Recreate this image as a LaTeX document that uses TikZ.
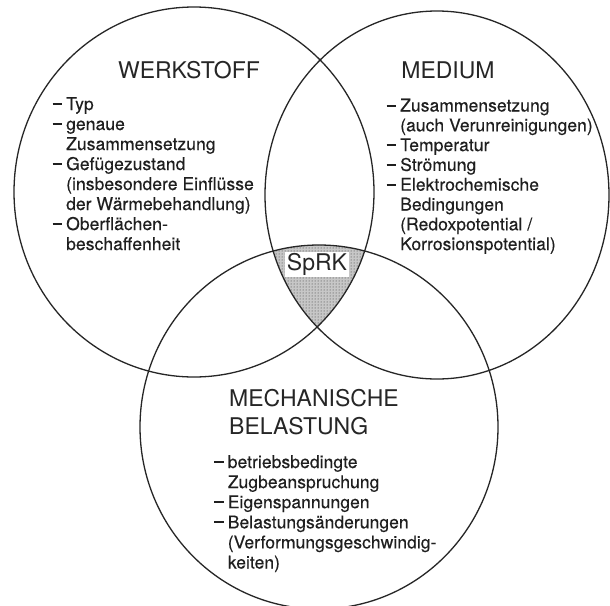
\documentclass[tikz,border=0pt]{standalone}
\usepackage{fontspec}
\setmainfont{TeX Gyre Heros}
\newfontfamily\bodyfont[LetterSpace=0.3,FakeBold=0.3]{TeX Gyre Heros}
\usetikzlibrary{patterns}
\newcommand\listdash{\rule[5pt]{9.5pt}{2pt}}
\begin{document}
\begin{tikzpicture}[x=1pt,y=-1pt,
  ring/.style={line width=1.3pt, draw=black!85},
  heading/.style={font=\fontsize{23}{28}\selectfont, inner sep=0pt, text=black!85},
  entry/.style={font=\bodyfont\fontsize{17.5}{20}\selectfont, inner sep=0pt, anchor=base west, text=black!88},
]
\useasboundingbox (0,0) rectangle (610,605);
\fill[white] (0,0) rectangle (610,605);

% shaded common region
\begin{scope}
  \clip (194,192) ellipse [x radius=180, y radius=185];
  \clip (437,195) ellipse [x radius=172, y radius=184];
  \fill[black!22] (319,427) ellipse [x radius=179, y radius=182];
  \fill[pattern=dots, pattern color=black!80] (319,427) ellipse [x radius=179, y radius=182];
\end{scope}

% circles
\draw[ring] (194,192) ellipse [x radius=180, y radius=185];
\draw[ring] (437,195) ellipse [x radius=172, y radius=184];
\draw[ring] (319,427) ellipse [x radius=179, y radius=182];

% headings
\node[heading, anchor=base] (werkstoff) at (189,78) {WERKSTOFF};
\node[heading, anchor=base] (medium) at (448,78.6) {MEDIUM};
\node[heading, anchor=base west] (mech1) at (229,406.6) {MECHANISCHE};
\node[heading, anchor=base west] (mech2) at (229,434.6) {BELASTUNG};
\node[heading, anchor=base, fill=white, inner sep=1.5pt] (sprk) at (317,270.5) {SpRK};

% lists
\foreach \d/\t [count=\i from 0] in {1/{Typ}, 1/{genaue}, 0/{Zusammensetzung}, 1/{Gefügezustand}, 0/{(insbesondere Einflüsse}, 0/{der Wärmebehandlung)}, 1/{Oberflächen-}, 0/{beschaffenheit}} {
  \node[entry] (w\i) at (66,110+20*\i) {\t};
  \ifnum\d=1 \node[entry] (wd\i) at (52.5,110+20*\i) {\listdash};\fi
}
\foreach \d/\t [count=\i from 0] in {1/{Zusammensetzung}, 0/{(auch Verunreinigungen)}, 1/{Temperatur}, 1/{Strömung}, 1/{Elektrochemische}, 0/{Bedingungen}, 0/{(Redoxpotential /}, 0/{Korrosionspotential)}} {
  \node[entry] (m\i) at (400,111.5+19.8*\i) {\t};
  \ifnum\d=1 \node[entry] (md\i) at (386.5,111.5+19.8*\i) {\listdash};\fi
}
\foreach \d/\t [count=\i from 0] in {1/{betriebsbedingte}, 0/{Zugbeanspruchung}, 1/{Eigenspannungen}, 1/{Belastungsänderungen}, 0/{(Verformungsgeschwindig-}, 0/{keiten)}} {
  \node[entry] (b\i) at (227.6,468+20.1*\i) {\t};
  \ifnum\d=1 \node[entry] (bd\i) at (214,468+20.1*\i) {\listdash};\fi
}
\end{tikzpicture}
\end{document}
